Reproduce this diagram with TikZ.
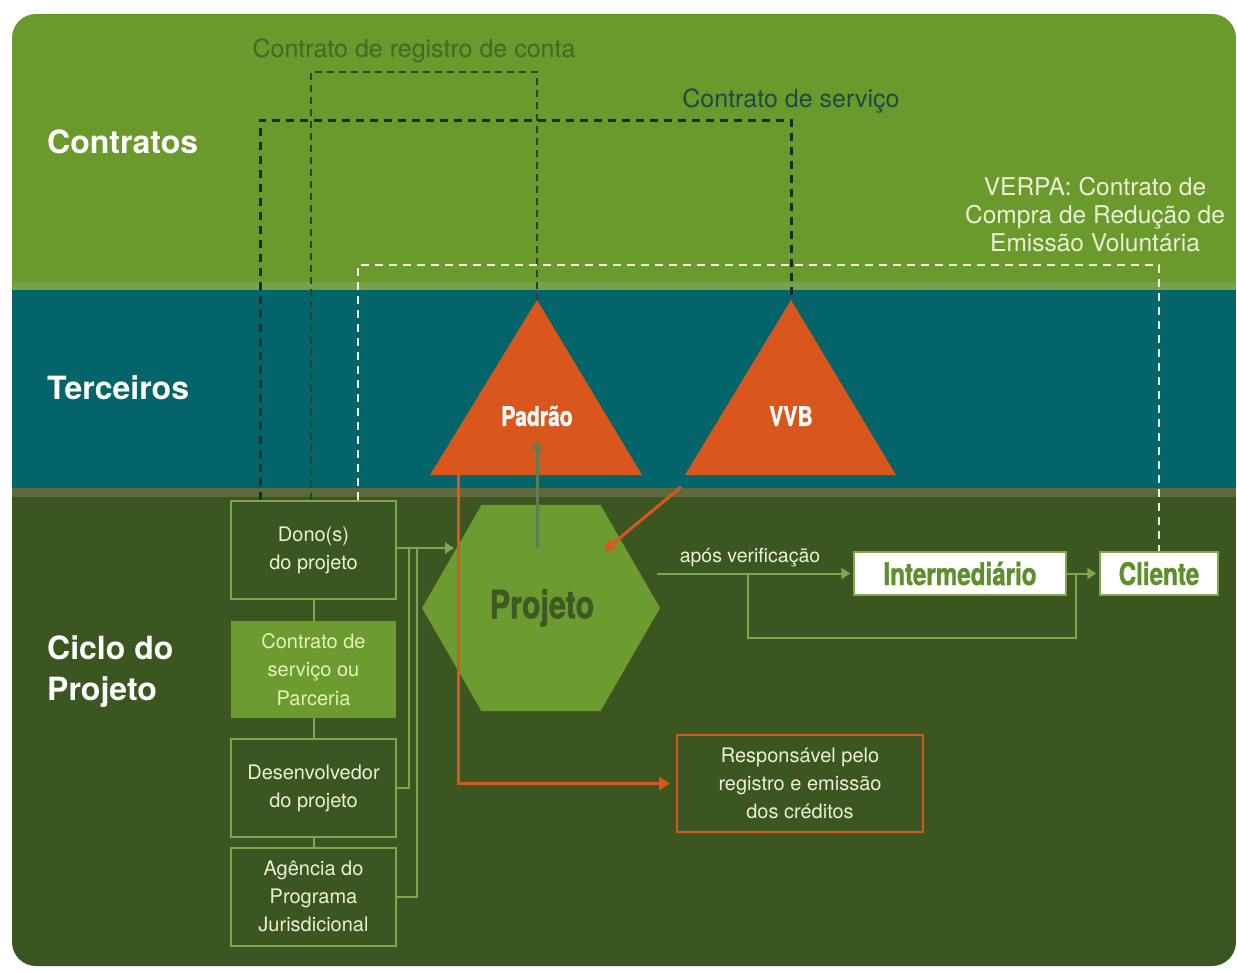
\documentclass[tikz,border=0pt]{standalone}
\usepackage{fontspec}
\setmainfont{TeX Gyre Heros}
\newfontfamily\condfont[FakeStretch=0.78,BoldFeatures={FakeBold=1.2}]{TeX Gyre Heros}
\usetikzlibrary{arrows.meta,shapes.geometric}

\definecolor{topgreen}{HTML}{6A992C}
\definecolor{tealband}{HTML}{03646A}
\definecolor{darkgreen}{HTML}{3B5621}
\definecolor{stripup}{HTML}{78A24A}
\definecolor{stripdown}{HTML}{5C6A3E}
\definecolor{lightline}{HTML}{7FA84C}
\definecolor{hexgreen}{HTML}{6C9B30}
\definecolor{orangex}{HTML}{D9561D}
\definecolor{creamtext}{HTML}{ECEFD6}
\definecolor{paletext}{HTML}{E4F3B8}
\definecolor{regtext}{HTML}{3F6B25}
\definecolor{svctext}{HTML}{1C4B42}
\definecolor{regdash}{HTML}{2A4523}
\definecolor{svcdash}{HTML}{132E27}
\definecolor{verdash}{HTML}{F2F5DE}
\definecolor{projtext}{HTML}{3E5A22}
\definecolor{intertext}{HTML}{5E8F2C}
\definecolor{uparrow}{HTML}{5E7D55}

\begin{document}
\begin{tikzpicture}[x=1pt,y=-1pt,
  bandlabel/.style={anchor=west,text=white,align=left,font=\bfseries\fontsize{32}{41}\selectfont,inner sep=0},
  actor/.style={draw=lightline,line width=2pt,fill=darkgreen,minimum width=165pt,minimum height=98pt,
    text=creamtext,align=center,font=\fontsize{20}{28}\selectfont,inner sep=0},
  dealbox/.style={fill=hexgreen,minimum width=165pt,minimum height=97pt,
    text=paletext,align=center,font=\fontsize{20}{28.5}\selectfont,inner sep=0},
  buyer/.style={draw=lightline,line width=1.5pt,fill=white,minimum height=43pt,inner sep=0,
    text=intertext,font=\condfont\bfseries\fontsize{31}{31}\selectfont},
  trilabel/.style={text=white,font=\condfont\bfseries\fontsize{27}{27}\selectfont,inner sep=0},
  flow/.style={draw=lightline,line width=2pt},
  flowtip/.style={flow,-{Triangle[length=9pt,width=11pt]}},
  regline/.style={draw=regdash,line width=2pt,dash pattern=on 7pt off 5pt},
  svcline/.style={draw=svcdash,line width=3pt,dash pattern=on 8pt off 6pt},
  verline/.style={draw=verdash,line width=2pt,dash pattern=on 8pt off 6pt},
  orangeline/.style={draw=orangex,line width=3pt}
]
\useasboundingbox (0,0) rectangle (1237,970);
\fill[white] (0,0) rectangle (1237,970);

% three horizontal bands inside the rounded frame
\begin{scope}
  \clip[rounded corners=24pt] (12,14) rectangle (1236,966);
  \fill[topgreen] (0,0) rectangle (1237,288);
  \fill[tealband] (0,288) rectangle (1237,490);
  \fill[darkgreen] (0,490) rectangle (1237,970);
  \fill[stripup] (0,282) rectangle (1237,290);
  \fill[stripdown] (0,488) rectangle (1237,497);
\end{scope}

% band titles
\node[bandlabel] (lblcontratos) at (47,142) {Contratos};
\node[bandlabel] (lblterceiros) at (47,388) {Terceiros};
\node[bandlabel] (lblciclo) at (47,672) {Ciclo do\\Projeto};

% contract captions
\node[text=regtext,font=\fontsize{25}{30}\selectfont] (capreg) at (414,51) {Contrato de registro de conta};
\node[text=svctext,font=\fontsize{25}{30}\selectfont] (capsvc) at (791,101) {Contrato de serviço};
\node[text=creamtext,align=center,font=\fontsize{24.5}{28}\selectfont] (capverpa) at (1095,215)
  {VERPA: Contrato de\\Compra de Redução de\\Emissão Voluntária};

% left column of actors
\node[actor] (dono) at (313.5,550) {Dono(s)\\do projeto};
\node[dealbox] (acordo) at (313.5,669.5) {Contrato de\\serviço ou\\Parceria};
\node[actor] (devel) at (313.5,788) {Desenvolvedor\\do projeto};
\node[actor] (agencia) at (313.5,896.5) {Agência do\\Programa\\Jurisdicional};
\draw[flow] (dono.south) -- (acordo.north);
\draw[flow] (acordo.south) -- (devel.north);
\draw[flow] (devel.south) -- (agencia.north);

% third parties
\coordinate (padtop) at (537,300);
\coordinate (vvbtop) at (791,300);
\fill[orangex] (padtop) -- (642,475) -- (430,475) -- cycle;
\fill[orangex] (vvbtop) -- (896,475) -- (685,475) -- cycle;
\node[trilabel] (padrao) at (537,416) {Padrão};
\node[trilabel] (vvb) at (791,416) {VVB};

% the project
\node[regular polygon,regular polygon sides=6,minimum size=238pt,fill=hexgreen,inner sep=0] (proj) at (541,608) {};
\node[text=projtext,font=\condfont\bfseries\fontsize{39}{39}\selectfont,inner sep=0] (projlbl) at (542,608) {Projeto};

% buyers
\node[buyer,minimum width=212pt] (inter) at (960,573.5) {Intermediário};
\node[buyer,minimum width=118pt] (cliente) at (1159,573.5) {Cliente};

% registry
\node[draw=orangex,line width=2pt,minimum width=246pt,minimum height=97pt,inner sep=0,
  text=creamtext,align=center,font=\fontsize{20}{28}\selectfont] (resp) at (800,783.5)
  {Responsável pelo\\registro e emissão\\dos créditos};

% contract lines
\coordinate (svcfoot) at (260,500);
\coordinate (regfoot) at (311,500);
\coordinate (verfoot) at (358,500);
\draw[regline] (regfoot) -- (311,72) -| (padtop);
\draw[svcline] (svcfoot) -- (260,120) -| (vvbtop);
\draw[verline] (verfoot) -- (358,265) -| (cliente.north);

% actors feeding the project
\coordinate (hexin) at (454,548);
\draw[flowtip] (dono.east |- hexin) -- (hexin);
\draw[flow] (devel.east) -- ++(12,0) |- (dono.east |- hexin);
\draw[flow] (agencia.east) -- ++(20,0) |- (dono.east |- hexin);

% project to standard, verifier to project
\coordinate (projup) at (537,548);
\coordinate (padin) at (537,441);
\draw[draw=uparrow,line width=3pt,-{Triangle[length=9pt,width=11pt]}] (projup) -- (padin);
\coordinate (vvbfoot) at (681,487);
\coordinate (projhit) at (604,551);
\draw[orangeline,-{Triangle[length=11pt,width=13pt]}] (vvbfoot) -- (projhit);

% standard to registry
\coordinate (padleg) at (458,475);
\draw[orangeline,-{Triangle[length=11pt,width=13pt]}] (padleg) |- ([xshift=-6pt]resp.west);

% sale after verification
\coordinate (aposstart) at (657,573.5);
\coordinate (bypass) at (748,573.5);
\coordinate (bypassend) at (1076,573.5);
\draw[flowtip] (aposstart) -- ([xshift=-3pt]inter.west);
\node[text=creamtext,font=\fontsize{19.5}{24}\selectfont,inner sep=0] (apos) at (750,558) {após verificação};
\draw[flow] (bypass) -- (748,638) -| (bypassend);
\draw[flowtip] (inter.east) -- ([xshift=-3pt]cliente.west);
\end{tikzpicture}
\end{document}
